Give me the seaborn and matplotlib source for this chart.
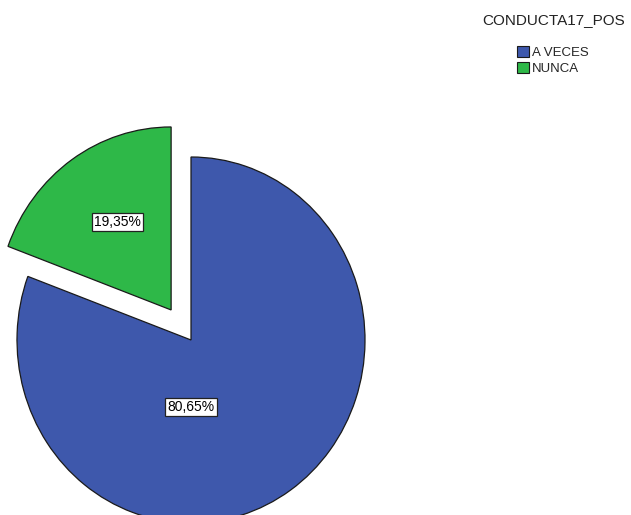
import matplotlib
matplotlib.use("Agg")
import matplotlib.pyplot as plt
import seaborn as sns

# Response categories and their shares (percent)
categories = ["A VECES", "NUNCA"]
shares = [80.65, 19.35]
explode = [0.0, 0.2]
legend_title = "CONDUCTA17_POS"

sns.set_style("white")
plt.rcParams["font.family"] = ["Liberation Sans", "DejaVu Sans"]

palette = sns.color_palette(["#3E58AC", "#2EB848"])

W, H, DPI = 631, 515, 100
fig = plt.figure(figsize=(W / DPI, H / DPI), dpi=DPI)
ax = fig.add_axes([0, 0, 1, 1])

wedges, _ = ax.pie(
    shares,
    colors=palette,
    explode=explode,
    startangle=90,
    counterclock=False,
    wedgeprops=dict(edgecolor="#1a1a1a", linewidth=0.9),
)

# Slightly elliptical pie: centre at (191, 340) px, radii 174 px by 183 px
cx, cy, rx, ry = 191, 340, 174, 183
ax.set_aspect("auto")
ax.set_xlim(-cx / rx, (W - cx) / rx)
ax.set_ylim(-(H - cy) / ry, cy / ry)
ax.axis("off")

# Percentage labels in boxed white tags
label_pos = {"A VECES": (0.0, -0.366), "NUNCA": (-0.42, 0.645)}
for cat, val in zip(categories, shares):
    x, y = label_pos[cat]
    ax.text(
        x, y, f"{val:.2f}%".replace(".", ","),
        ha="center", va="center", fontsize=10, color="black",
        bbox=dict(boxstyle="square,pad=0.15", facecolor="white",
                  edgecolor="#222222", linewidth=0.9),
    )

# Legend title and entries
fig.text(553.5 / W, 1 - 20 / H, legend_title, ha="center", va="center",
         fontsize=11, color="#222222")
leg = fig.legend(
    wedges, categories,
    loc="upper center",
    bbox_to_anchor=(553 / W, 1 - 37 / H),
    frameon=False,
    fontsize=9.5,
    handlelength=0.9,
    handleheight=0.9,
    handletextpad=0.25,
    labelspacing=0.2,
    borderpad=0.2,
)
for h in leg.legend_handles:
    h.set_edgecolor("#1a1a1a")
    h.set_linewidth(0.8)

fig.savefig("out.png", dpi=DPI)
